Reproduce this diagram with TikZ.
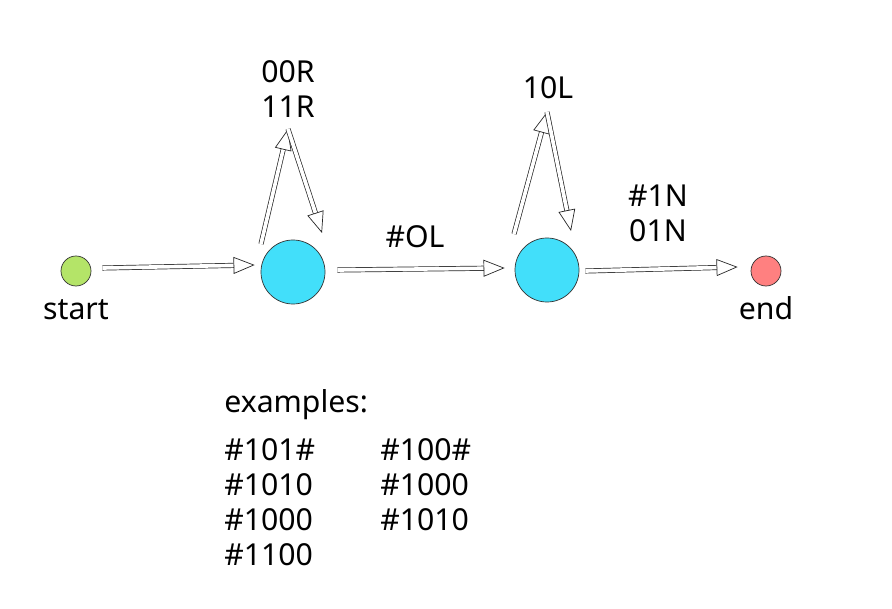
\documentclass[tikz,border=0pt]{standalone}
\usepackage{fontspec}
\setmainfont{Noto Sans}
\usetikzlibrary{arrows.meta}
\usetikzlibrary{positioning}

\definecolor{startgreen}{RGB}{180,228,104}
\definecolor{statecyan}{RGB}{66,223,250}
\definecolor{endred}{RGB}{255,128,128}

\begin{document}
\begin{tikzpicture}[x=0.025cm, y=-0.025cm, font=\fontsize{21.5}{25}\selectfont,
  state/.style={circle, draw=black!80, line width=0.5pt, inner sep=0pt, minimum size=#1},
  trans/.style={draw=black!85, line width=0.5pt, double=white, double distance=2.6pt, -{Triangle[open, length=15pt, width=12pt]}}]

\useasboundingbox (0,0) rectangle (892,609);

% states
\node (start) [state=0.75cm, fill=startgreen, label={[label distance=6pt]below:start}] at (76,271) {};
\node (q1) [state=1.6cm, fill=statecyan] at (293,272) {};
\node (q2) [state=1.6cm, fill=statecyan] at (547,270) {};
\node (end) [state=0.75cm, fill=endred, label={[label distance=4pt]below:end}] at (766,271) {};

% loop tops
\coordinate (q1top) at (288,129);
\coordinate (q2top) at (547,112);

% transitions
\draw[trans] ([shift={(11,-3)}]start.east) -- ([shift={(-6,-7)}]q1.west);
\draw[trans] ([shift={(12,-2)}]q1.east) -- ([shift={(-10,-2)}]q2.west);
\draw[trans] ([shift={(6,1)}]q2.east) -- ([shift={(-13,-4)}]end.west);
\draw[trans] ([shift={(-32,-28)}]q1.center) -- (q1top);
\draw[trans] (q1top) -- ([shift={(29,-39)}]q1.center);
\draw[trans] ([shift={(-33,-36)}]q2.center) -- (q2top);
\draw[trans] (q2top) -- ([shift={(24,-39)}]q2.center);

% labels
\node (q1loop) [align=center] at (288,89) {00R\\11R};
\node (q2loop) [align=center] at (548,88) {10L};
\node (q1q2) at (415,237) {\#OL};
\node (q2end) [align=center] at (658,213) {\#1N\\01N};

% examples
\node (examples) [anchor=base west, inner sep=0pt] at (224,412) {examples:};
\node (colone) [anchor=north west, inner sep=0pt, align=left] at (224,438) {\#101\#\\\#1010\\\#1000\\\#1100};
\node (coltwo) [anchor=north west, inner sep=0pt, align=left] at (380,438) {\#100\#\\\#1000\\\#1010};

\end{tikzpicture}
\end{document}
